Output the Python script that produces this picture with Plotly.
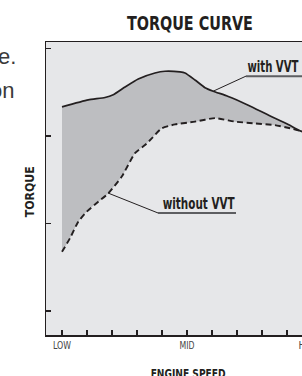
import plotly.graph_objects as go

# ---- data (engine speed in steps: LOW=0, MID=5, HIGH=10; torque in arbitrary units) ----
speed_with = [0, 1.05, 1.72, 2.05, 2.52, 3.05, 3.72, 4.12, 4.72, 4.92, 5.32, 5.72, 6.05, 6.65, 7.45, 8.25, 9.05, 9.52, 10]
torque_with = [83.3, 85.3, 86.0, 86.8, 89.0, 91.3, 93.0, 93.5, 93.3, 93.0, 91.0, 88.8, 87.8, 86.3, 83.8, 81.0, 78.3, 76.5, 75.3]

speed_without = [0, 0.32, 0.65, 0.99, 1.45, 1.85, 2.39, 2.92, 3.32, 3.59, 3.99, 4.52, 5.32, 6.12, 6.92, 7.72, 8.52, 9.12, 9.52, 10]
torque_without = [41.9, 45.8, 50.5, 53.4, 56.2, 58.6, 63.4, 70.1, 72.4, 74.3, 77.2, 78.3, 79.1, 80.1, 79.1, 78.6, 78.1, 77.2, 76.5, 75.3]

x_tick_vals = [0, 1, 2, 3, 4, 5, 6, 7, 8, 9]
x_tick_text = ["LOW", "", "", "", "", "MID", "", "", "", ""]
high_label = "HIGH"
y_tick_vals = [25, 50, 75, 100]

# label anchors (data coords)
with_pt = (6.05, 87.8)      # point on curve
with_elbow = (7.36, 92.1)
with_text = (8.46, 94.6)
without_pt = (1.84, 58.7)
without_elbow = (3.84, 53.0)
without_end = 6.96
without_text = (5.48, 55.6)

DARK = "#231f20"
HEAD_FONT = "Liberation Sans Narrow, DejaVu Sans Condensed, DejaVu Sans, sans-serif"

# target rendered widths (px) for the condensed lettering
squeeze = {"TORQUE CURVE": 126, "with VVT": 51, "without VVT": 72, "TORQUE": 51,
           "ENGINE SPEED": 75, "LOW": 18, "MID": 15, "HIGH": 24}

fig = go.Figure()
fig.add_trace(go.Scatter(x=speed_without, y=torque_without, mode="lines",
                         line=dict(color=DARK, width=1.9, dash="6px,3.5px", shape="spline", smoothing=0.5),
                         hoverinfo="skip", showlegend=False))
fig.add_trace(go.Scatter(x=speed_with, y=torque_with, mode="lines", fill="tonexty",
                         fillcolor="#bdbec1",
                         line=dict(color=DARK, width=1.7, shape="spline", smoothing=0.5),
                         hoverinfo="skip", showlegend=False))

# leader lines
fig.add_shape(type="line", xref="x", yref="y", x0=with_pt[0], y0=with_pt[1],
              x1=with_elbow[0], y1=with_elbow[1], line=dict(color=DARK, width=1))
fig.add_shape(type="line", xref="x", yref="y", x0=with_elbow[0], y0=with_elbow[1], x1=10.5, y1=with_elbow[1],
              line=dict(color="#5d5e61", width=2))
fig.add_shape(type="line", xref="x", yref="y", x0=without_pt[0], y0=without_pt[1],
              x1=without_elbow[0], y1=without_elbow[1], line=dict(color=DARK, width=1))
fig.add_shape(type="line", xref="x", yref="y", x0=without_elbow[0], y0=without_elbow[1], x1=without_end,
              y1=without_elbow[1], line=dict(color="#5d5e61", width=2))

fig.add_annotation(x=with_text[0], y=with_text[1], xref="x", yref="y", text="with VVT",
                   showarrow=False, xanchor="center", yanchor="middle",
                   font=dict(family=HEAD_FONT, size=15, color=DARK, weight="bold"))
fig.add_annotation(x=without_text[0], y=without_text[1], xref="x", yref="y", text="without VVT",
                   showarrow=False, xanchor="center", yanchor="middle",
                   font=dict(family=HEAD_FONT, size=15, color=DARK, weight="bold"))

# title and axis titles
fig.add_annotation(x=(190 - 46) / 256, y=1 + (42 - 22.5) / 293, xref="paper", yref="paper", text="TORQUE CURVE",
                   showarrow=False, xanchor="center", yanchor="middle",
                   font=dict(family=HEAD_FONT, size=20, color=DARK, weight="bold"))
fig.add_annotation(x=-17 / 256, y=(335 - 192) / 293, xref="paper", yref="paper", text="TORQUE",
                   showarrow=False, xanchor="center", yanchor="middle", textangle=-90,
                   font=dict(family=HEAD_FONT, size=13, color=DARK, weight="bold"))
fig.add_annotation(x=(188 - 46) / 256, y=-(373 - 335) / 293, xref="paper", yref="paper",
                   text="ENGINE SPEED", showarrow=False, xanchor="center", yanchor="middle",
                   font=dict(family=HEAD_FONT, size=13, color=DARK, weight="bold"))
fig.add_annotation(x=(310 - 46) / 256, y=-(346 - 335) / 293, xref="paper", yref="paper",
                   text=high_label, showarrow=False, xanchor="center", yanchor="middle",
                   font=dict(family=HEAD_FONT, size=10, color="#444444"))

# fragments of surrounding page text
fig.add_annotation(x=-28 / 256, y=(335 - 57) / 293, xref="paper", yref="paper", text="e.",
                   showarrow=False, xanchor="right", yanchor="middle",
                   font=dict(family="Liberation Sans, Arial, sans-serif", size=22, color="#3a3a3a"))
fig.add_annotation(x=-30 / 256, y=(335 - 90) / 293, xref="paper", yref="paper", text="on",
                   showarrow=False, xanchor="right", yanchor="middle",
                   font=dict(family="Liberation Sans, Arial, sans-serif", size=22, color="#3a3a3a"))

fig.update_xaxes(range=[-0.64, 9.6], tickvals=x_tick_vals, ticktext=x_tick_text,
                 ticks="inside", ticklen=5, tickwidth=1.2, tickcolor=DARK,
                 showline=True, linecolor=DARK, linewidth=1.5, mirror=True,
                 showgrid=False, zeroline=False,
                 tickfont=dict(family=HEAD_FONT, size=10, color="#444444"))
fig.update_yaxes(range=[18.14, 101.85], tickvals=y_tick_vals, showticklabels=False,
                 ticks="inside", ticklen=5, tickwidth=1.2, tickcolor=DARK,
                 showline=True, linecolor=DARK, linewidth=1.5, mirror=False,
                 showgrid=False, zeroline=False)

fig.update_layout(width=302, height=376, margin=dict(l=46, r=0, t=42, b=41),
                  paper_bgcolor="white", plot_bgcolor="#e6e7e9", showlegend=False)

post = """
document.body.style.margin = '0';
var W = %s;
document.querySelectorAll('svg text').forEach(function(t){
  var k = t.textContent;
  if (W[k]) { t.setAttribute('textLength', W[k]); t.setAttribute('lengthAdjust', 'spacingAndGlyphs'); }
});
""" % str(squeeze).replace("'", '"')

fig.write_html("out.html", post_script=post, config={"displayModeBar": False, "staticPlot": True})
